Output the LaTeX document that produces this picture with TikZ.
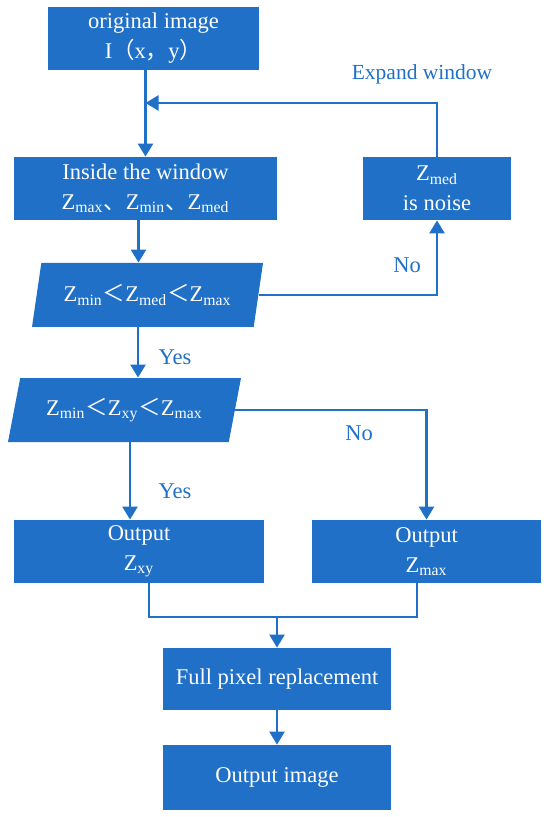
\documentclass[tikz,border=0pt]{standalone}
\usepackage{fontspec}
\setmainfont{Liberation Serif}
\newfontfamily\cjk{Noto Sans CJK SC}
\usetikzlibrary{arrows.meta,shapes.geometric}
\definecolor{flowblue}{RGB}{31,112,198}
\newcommand{\Zs}[1]{Z\textsubscript{#1}}
\begin{document}
\begin{tikzpicture}[x=0.5pt, y=-0.5pt, >={Triangle[length=6.5pt,width=7.5pt]},
    font=\fontsize{11.25}{15}\selectfont,
    box/.style={rectangle, fill=flowblue, text=white, align=center, inner sep=2pt},
    test/.style={trapezium, trapezium stretches body, fill=flowblue, text=white,
      minimum height=32pt, inner sep=2pt},
    flow/.style={->, draw=flowblue, line width=1.25pt},
    link/.style={draw=flowblue, line width=1.25pt},
    lbl/.style={text=flowblue, inner sep=0pt}]
      \useasboundingbox (0,0) rectangle (550,817);
      \node[box, minimum width=105.5pt, minimum height=31.5pt] (orig) at (153.5,38.5) {original image\\I{\cjk （}x{\cjk ，}y{\cjk ）}};
      \node[box, minimum width=131.5pt, minimum height=31.5pt] (window) at (145.5,188.5) {Inside the window\\\Zs{max}{\cjk 、}\Zs{min}{\cjk 、}\Zs{med}};
      \node[box, minimum width=74pt, minimum height=31.5pt] (noise) at (437,188.5) {\Zs{med}\\is noise};
      \node[test, trapezium left angle=72, trapezium right angle=108, minimum width=115.5pt] (testmed) at (147.5,295) {\Zs{min}{\cjk ＜}\Zs{med}{\cjk ＜}\Zs{max}};
      \node[test, trapezium left angle=69, trapezium right angle=111, minimum width=116.5pt] (testxy) at (124.5,410) {\Zs{min}{\cjk ＜}\Zs{xy}{\cjk ＜}\Zs{max}};
      \node[box, minimum width=125pt, minimum height=31.5pt] (outxy) at (139,551.5) {Output\\\Zs{xy}};
      \node[box, minimum width=114.5pt, minimum height=31.5pt] (outmax) at (426.5,551.5) {Output\\\Zs{max}};
      \node[box, minimum width=114pt, minimum height=31pt] (replace) at (277,679) {Full pixel replacement};
      \node[box, minimum width=114pt, minimum height=32.5pt] (outimg) at (277,777.5) {Output image};
      \coordinate (join) at (145.5,103);
      \coordinate (merge) at (277,617);
      % connectors
      \draw[link] (orig.south -| window.north) -- (join);
      \draw[flow] (join) -- (window.north);
      \draw[flow] (noise.north) |- (join);
      \draw[flow] ([xshift=-3.5pt]window.south) -- ([xshift=-3.5pt]window.south |- testmed.north);
      \draw[flow] (testmed.east) -| (noise.south);
      \draw[flow] ([xshift=-4.75pt]testmed.south) -- ([xshift=-4.75pt]testmed.south |- testxy.north);
      \draw[flow] (testxy.east) -| (outmax.north);
      \draw[flow] ([xshift=2.75pt]testxy.south) -- ([xshift=2.75pt]testxy.south |- outxy.north);
      \draw[link] ([xshift=5pt]outxy.south) |- (merge) -| ([xshift=-4.75pt]outmax.south);
      \draw[flow] (merge) -- (replace.north);
      \draw[flow] (replace.south) -- (outimg.north);
      % labels
      \node[lbl, font=\fontsize{10.75}{13}\selectfont] (expand) at (422,74) {Expand window};
      \node[lbl] (nomed) at (407,265) {No};
      \node[lbl] (yesmed) at (175,357) {Yes};
      \node[lbl] (noxy) at (359,433) {No};
      \node[lbl] (yesxy) at (175,491) {Yes};
\end{tikzpicture}
\end{document}
